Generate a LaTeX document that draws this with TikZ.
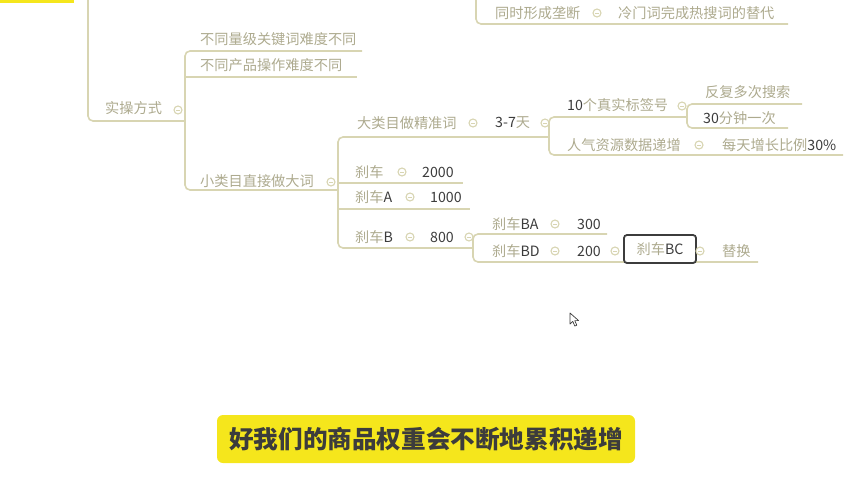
\documentclass[tikz,border=0pt]{standalone}
\usepackage{fontspec}
\setmainfont{Noto Sans CJK SC}
\usetikzlibrary{positioning}
\definecolor{branchline}{HTML}{D8D5B2}
\definecolor{cjktext}{HTML}{ADAA8E}
\definecolor{lattext}{HTML}{3C3C3C}
\definecolor{capyellow}{HTML}{F5E61C}
\newcommand{\lat}[1]{\textcolor{lattext}{#1}}

\begin{document}
\begin{tikzpicture}[x=1pt, y=-1pt,
    branch/.style={draw=branchline, line width=1.6pt, rounded corners=5pt},
    topic/.style={anchor=west, inner sep=0pt, text=cjktext, font=\fontsize{14.2}{15}\selectfont},
    knob/.style={circle, draw=branchline, fill=white, line width=1.1pt, minimum size=8pt, inner sep=0pt,
        path picture={\draw[branchline, line width=0.9pt] ([xshift=-1.6pt]path picture bounding box.center) -- ([xshift=1.6pt]path picture bounding box.center);}},
    selbox/.style={draw=lattext, line width=1.8pt, rounded corners=3pt, fill=white, minimum width=72pt, minimum height=28pt, inner sep=0pt, text=cjktext, font=\fontsize{14.2}{15}\selectfont},
    caption/.style={fill=capyellow, rounded corners=6pt, minimum width=418pt, minimum height=48pt, inner sep=0pt, text=lattext, font=\fontsize{24.6}{26}\selectfont\bfseries}]
    \useasboundingbox (0,0) rectangle (852,480);
    \fill[capyellow] (0,0) rectangle (74,2.5);

    \draw[branch] (476,0) -- (476,24) -- (788,24);
    \node[topic] (longduan) at (495,13) {同时形成垄断};
    \node[knob] (longduanK) at (597,13) {};
    \node[topic] (tidai) at (618,13) {冷门词完成热搜词的替代};

    \draw[branch] (88,0) -- (88,121) -- (185,121);
    \node[topic] (shicao) at (105,108) {实操方式};
    \node[knob] (shicaoK) at (178,110) {};

    \draw[branch] (362,51) -- (185,51) -- (185,190) -- (338,190);
    \draw[branch] (185,77) -- (357,77);
    \node[topic] (nanduA) at (200,39) {不同量级关键词难度不同};
    \node[topic] (nanduB) at (200,65) {不同产品操作难度不同};
    \node[topic] (xiaolei) at (200,181) {小类目直接做大词};
    \node[knob] (xiaoleiK) at (331,182) {};

    \draw[branch] (549,137) -- (338,137) -- (338,248) -- (473,248);
    \node[topic] (dalei) at (357,123) {大类目做精准词};
    \node[knob] (daleiK) at (473,123) {};
    \node[topic] (tian) at (495,123) {\lat{3-7}天};
    \node[knob] (tianK) at (545,123) {};

    \draw[branch] (687,117) -- (549,117) -- (549,155) -- (843,155);
    \node[topic] (biaoqian) at (567,105) {\lat{10}个真实标签号};
    \node[knob] (biaoqianK) at (682,106) {};
    \node[topic] (renqi) at (567,145) {人气资源数据递增};
    \node[knob] (renqiK) at (699,145) {};
    \node[topic] (zengzhang) at (722,145) {每天增长比例\lat{30\%}};

    \draw[branch] (802,104) -- (687,104) -- (687,128) -- (788,128);
    \node[topic] (fanfu) at (705,92) {反复多次搜索};
    \node[topic] (fenzhong) at (703,118) {\lat{30}分钟一次};

    \draw[branch] (338,183) -- (463,183);
    \draw[branch] (338,209) -- (470,209);
    \node[topic] (shache) at (355,172) {刹车};
    \node[knob] (shacheK) at (402,172) {};
    \node[topic] (n2000) at (422,172) {\lat{2000}};
    \node[topic] (shacheA) at (355,197) {刹车\lat{A}};
    \node[knob] (shacheAK) at (410,197) {};
    \node[topic] (n1000) at (430,197) {\lat{1000}};
    \node[topic] (shacheB) at (355,237) {刹车\lat{B}};
    \node[knob] (shacheBK) at (410,237) {};
    \node[topic] (n800) at (430,237) {\lat{800}};
    \node[knob] (n800K) at (469,237) {};

    \draw[branch] (607,234) -- (473,234) -- (473,262) -- (758,262);
    \node[topic] (shacheBA) at (492,224) {刹车\lat{BA}};
    \node[knob] (shacheBAK) at (555,224) {};
    \node[topic] (n300) at (577,224) {\lat{300}};
    \node[topic] (shacheBD) at (492,251) {刹车\lat{BD}};
    \node[knob] (shacheBDK) at (555,251) {};
    \node[topic] (n200) at (577,251) {\lat{200}};
    \node[knob] (n200K) at (615,251) {};
    \node[selbox] (shacheBC) at (660,249) {刹车\lat{BC}};
    \node[knob] (shacheBCK) at (700,251) {};
    \node[topic] (tihuan) at (722,251) {替换};

    \draw[lattext, fill=white, line width=0.7pt, line join=round] (570,313) -- (570,324) -- (572.8,321.4) -- (574.8,326) -- (576.8,325.2) -- (574.8,320.6) -- (578.6,320.6) -- cycle;

    \node[caption] (cap) at (426,439) {好我们的商品权重会不断地累积递增};
\end{tikzpicture}
\end{document}
